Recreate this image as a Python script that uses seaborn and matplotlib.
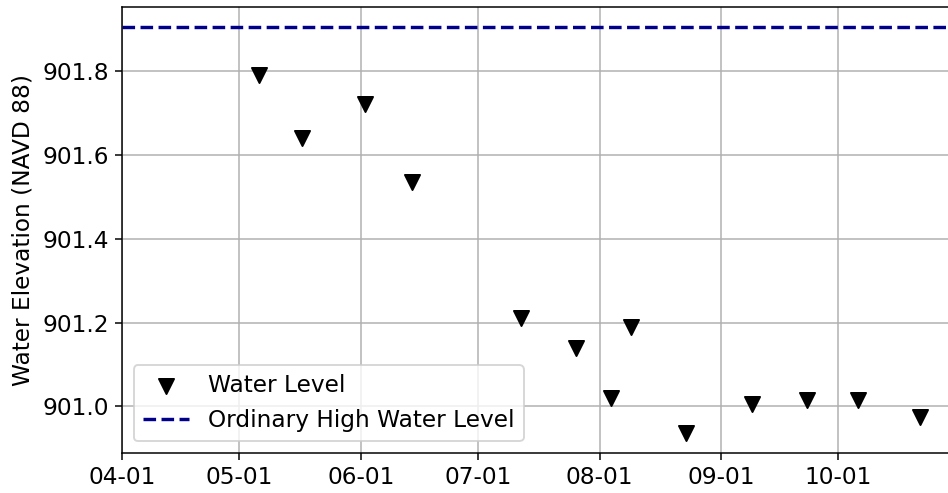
import pandas as pd
import numpy as np
import matplotlib
matplotlib.use("Agg")
import matplotlib.pyplot as plt
import matplotlib.dates as mdates
import seaborn as sns

# --- DATA ---
survey_dates = [
    "2019-05-06", "2019-05-17", "2019-06-02", "2019-06-14",
    "2019-07-12", "2019-07-26", "2019-08-04", "2019-08-09",
    "2019-08-23", "2019-09-09", "2019-09-23", "2019-10-06",
    "2019-10-22",
]
water_level = [
    901.79, 901.64, 901.72, 901.535,
    901.21, 901.14, 901.02, 901.19,
    900.937, 901.005, 901.015, 901.015,
    900.975,
]
ohwl = 901.904

x_start = "2019-04-01"
x_end = "2019-10-29 10:00"

df = pd.DataFrame({
    "Date": pd.to_datetime(survey_dates),
    "Elevation": water_level,
})

# plain matplotlib look with a grid
plt.rcParams.update({
    "font.size": 12.3,
    "font.family": ["DejaVu Sans"],
})

fig = plt.figure(figsize=(948 / 136, 493 / 136), dpi=136)
# right spine sits just past the canvas edge, like the cropped original
ax = fig.add_axes([122 / 948, 40 / 493, (949.5 - 122) / 948, (453 - 7) / 493])

sns.scatterplot(
    data=df, x="Date", y="Elevation", ax=ax,
    marker="v", s=64, color="black", edgecolor="black", linewidth=1.0,
    label="Water Level", zorder=3,
)
ax.axhline(ohwl, color="darkblue", linestyle="--", linewidth=1.8,
           label="Ordinary High Water Level", zorder=2)

ax.set_xlim(pd.Timestamp(x_start), pd.Timestamp(x_end))
ax.set_ylim(900.889, 901.952)
ax.set_yticks([901.0, 901.2, 901.4, 901.6, 901.8])
ax.yaxis.set_major_formatter(matplotlib.ticker.FormatStrFormatter("%.1f"))
ax.xaxis.set_major_locator(mdates.MonthLocator())
ax.xaxis.set_major_formatter(mdates.DateFormatter("%m-%d"))

ax.set_xlabel("")
ax.set_ylabel("Water Elevation (NAVD 88)")
ax.grid(True, color="#b0b0b0", linewidth=0.8)
ax.set_axisbelow(True)

ax.legend(loc="lower left")

fig.savefig("out.png", dpi=136)
